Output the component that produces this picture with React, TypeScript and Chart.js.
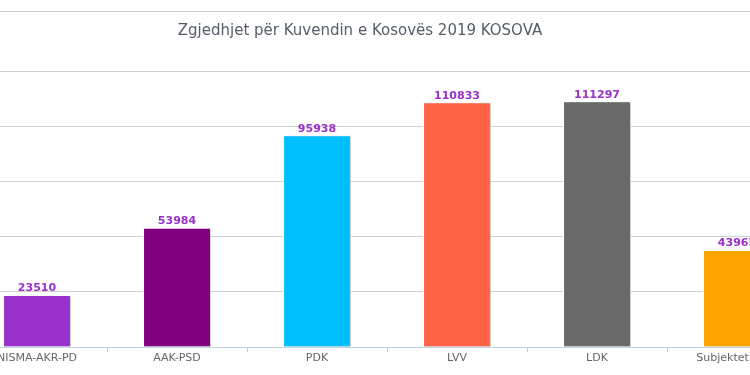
import React, { useEffect, useRef } from "react";
import { Chart, registerables } from "chart.js";

Chart.register(...registerables);

const TITLE = "Zgjedhjet për Kuvendin e Kosovës 2019 KOSOVA";
const categories = ["NISMA-AKR-PD", "AAK-PSD", "PDK", "LVV", "LDK", "Subjektet tjera"];
const votes = [23510, 53984, 95938, 110833, 111297, 43965];
const barColors = ["#9932CC", "#800080", "#00BFFF", "#FF6347", "#696969", "#FFA500"];
const yTicksMax = 125000;
const yStep = 25000;

const decoPlugin = {
  id: "deco",
  beforeDraw(chart: any) {
    const { ctx, chartArea } = chart;
    ctx.save();
    ctx.strokeStyle = "#d0d0d0";
    ctx.lineWidth = 1;
    ctx.beginPath();
    ctx.moveTo(0, chartArea.top - 60 + 0.5);
    ctx.lineTo(chart.width, chartArea.top - 60 + 0.5);
    ctx.stroke();
    ctx.fillStyle = "#555d66";
    ctx.font = "15px 'DejaVu Sans'";
    ctx.textAlign = "center";
    ctx.textBaseline = "middle";
    ctx.fillText(TITLE, chart.width / 2 - 27, chartArea.top - 40);
    ctx.restore();
  },
  beforeDatasetsDraw(chart: any) {
    const ctx = chart.ctx;
    ctx.save();
    ctx.shadowColor = "rgba(0,0,0,0.22)";
    ctx.shadowOffsetX = 2;
    ctx.shadowOffsetY = 1;
    ctx.shadowBlur = 2;
  },
  afterDatasetsDraw(chart: any) {
    const ctx = chart.ctx;
    ctx.restore();
    const meta = chart.getDatasetMeta(0);
    ctx.save();
    ctx.fillStyle = "#9932CC";
    ctx.font = "bold 11px 'DejaVu Sans'";
    ctx.textAlign = "center";
    ctx.textBaseline = "bottom";
    meta.data.forEach((bar: any, i: number) => {
      ctx.fillText(String(chart.data.datasets[0].data[i]), bar.x, bar.y - 1);
    });
    ctx.restore();
  },
};

export default function App() {
  const ref = useRef<HTMLCanvasElement>(null);
  useEffect(() => {
    document.body.style.margin = "0";
    const chart = new Chart(ref.current!, {
      type: "bar",
      data: {
        labels: categories,
        datasets: [
          {
            data: votes,
            backgroundColor: barColors,
            borderColor: "#ffffff",
            borderWidth: 1,
            categoryPercentage: 1,
            barPercentage: 0.485,
          },
        ],
      },
      options: {
        responsive: false,
        animation: false,
        layout: { padding: { top: 71, left: 0, right: 0, bottom: 0 } },
        plugins: { legend: { display: false }, title: { display: false }, tooltip: { enabled: false } },
        scales: {
          x: {
            offset: true,
            grid: { drawOnChartArea: false, drawTicks: true, tickLength: 5, color: "#c0d0e0", offset: true },
            border: { color: "#c0d0e0" },
            ticks: { color: "#666666", font: { family: "'DejaVu Sans'", size: 11 }, padding: 0, maxRotation: 0, autoSkip: false },
            afterFit: (s: any) => { s.height = 28; },
          },
          y: {
            min: 0,
            max: yTicksMax,
            ticks: { display: false, stepSize: yStep },
            grid: { color: "#d0d0d0", drawTicks: false },
            border: { display: false },
            afterFit: (s: any) => { s.width = 0; },
          },
        },
      },
      plugins: [decoPlugin],
    });
    return () => chart.destroy();
  }, []);
  return (
    <div style={{ position: "relative", width: 750, height: 375, overflow: "hidden", background: "#fff" }}>
      <canvas ref={ref} width={840} height={375} style={{ position: "absolute", left: -33, top: 0 }} />
    </div>
  );
}
